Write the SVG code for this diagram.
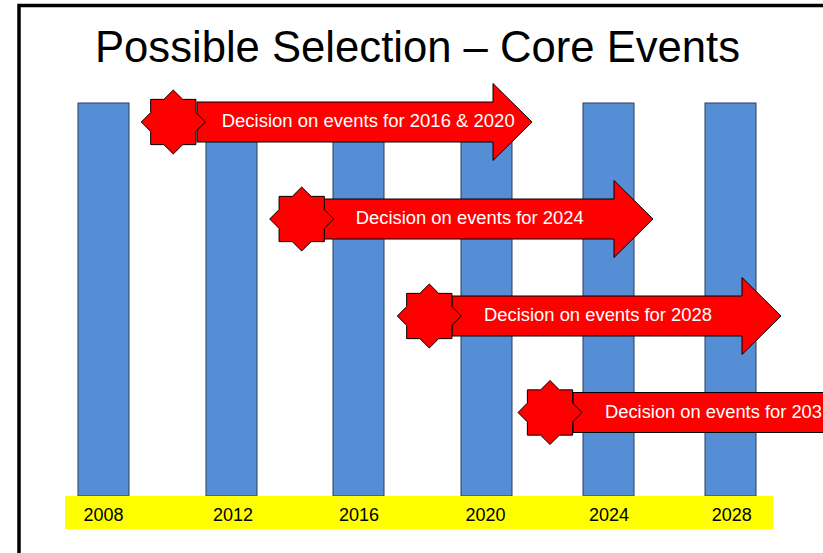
<svg xmlns="http://www.w3.org/2000/svg" xmlns:xlink="http://www.w3.org/1999/xlink" width="823" height="553" viewBox="0 0 823 553">
<style>
.bar{fill:#558ED5;stroke:#2B3F5C;stroke-width:1}
.arrow{fill:#FF0000;stroke:#000;stroke-width:1;stroke-linejoin:miter}
.star{fill:#FF0000;stroke:#000;stroke-width:1}
.atext{font-family:"Liberation Sans",Arial,sans-serif;font-size:18px;fill:#FFFFFF}
.year{font-family:"Liberation Sans",Arial,sans-serif;font-size:18px;fill:#000;text-anchor:middle}
.title{font-family:"Liberation Sans",Arial,sans-serif;font-size:45px;fill:#000}
</style>
<defs>
<path id="star8" d="M0,-32 L9.38,-22.63 L22.63,-22.63 L22.63,-9.38 L32,0 L22.63,9.38 L22.63,22.63 L9.38,22.63 L0,32 L-9.38,22.63 L-22.63,22.63 L-22.63,9.38 L-32,0 L-22.63,-9.38 L-22.63,-22.63 L-9.38,-22.63 Z"/>
</defs>
<rect x="0" y="0" width="823" height="553" fill="#FFFFFF"/>
<path d="M19,560 V5.5 H830" fill="none" stroke="#000" stroke-width="3.5"/>
<text class="title" x="95" y="62" textLength="645" lengthAdjust="spacingAndGlyphs">Possible Selection – Core Events</text>
<g id="bars">
<g id="bar-2008"><rect class="bar" x="78" y="103" width="51" height="393"/></g>
<g id="bar-2012"><rect class="bar" x="206" y="103" width="51" height="393"/></g>
<g id="bar-2016"><rect class="bar" x="333" y="103" width="51" height="393"/></g>
<g id="bar-2020"><rect class="bar" x="461" y="103" width="51" height="393"/></g>
<g id="bar-2024"><rect class="bar" x="583" y="103" width="51" height="393"/></g>
<g id="bar-2028"><rect class="bar" x="705" y="103" width="51" height="393"/></g>
</g>
<g id="timeline">
<rect x="65" y="496" width="708" height="33" fill="#FFFF00"/>
<text class="year" x="103.5" y="521" textLength="40" lengthAdjust="spacingAndGlyphs">2008</text>
<text class="year" x="233" y="521" textLength="40" lengthAdjust="spacingAndGlyphs">2012</text>
<text class="year" x="359" y="521" textLength="40" lengthAdjust="spacingAndGlyphs">2016</text>
<text class="year" x="485.5" y="521" textLength="40" lengthAdjust="spacingAndGlyphs">2020</text>
<text class="year" x="609" y="521" textLength="40" lengthAdjust="spacingAndGlyphs">2024</text>
<text class="year" x="731.7" y="521" textLength="40" lengthAdjust="spacingAndGlyphs">2028</text>
</g>
<g id="connectors"></g>
<g id="decision-2016-2020">
<path class="arrow" d="M197,102 H493 V83.5 L532,122 L493,160.5 V142 H197 Z"/>
<use href="#star8" xlink:href="#star8" class="star" x="173.3" y="122"/>
<text class="atext" x="221.7" y="127.3" textLength="293" lengthAdjust="spacingAndGlyphs">Decision on events for 2016 &amp; 2020</text>
</g>
<g id="decision-2024">
<path class="arrow" d="M323,199 H614 V180.5 L653,219 L614,257.5 V239 H323 Z"/>
<use href="#star8" xlink:href="#star8" class="star" x="301.7" y="219"/>
<text class="atext" x="355.7" y="224.3" textLength="228" lengthAdjust="spacingAndGlyphs">Decision on events for 2024</text>
</g>
<g id="decision-2028">
<path class="arrow" d="M452,296 H742 V277.5 L781,316 L742,354.5 V336 H452 Z"/>
<use href="#star8" xlink:href="#star8" class="star" x="429.3" y="316"/>
<text class="atext" x="484" y="321" textLength="228" lengthAdjust="spacingAndGlyphs">Decision on events for 2028</text>
</g>
<g id="decision-2032">
<path class="arrow" d="M573,392.5 H840 V432.5 H573 Z"/>
<use href="#star8" xlink:href="#star8" class="star" x="550" y="412.5"/>
<text class="atext" x="605" y="417.5" textLength="217" lengthAdjust="spacingAndGlyphs">Decision on events for 203</text>
</g>
</svg>
